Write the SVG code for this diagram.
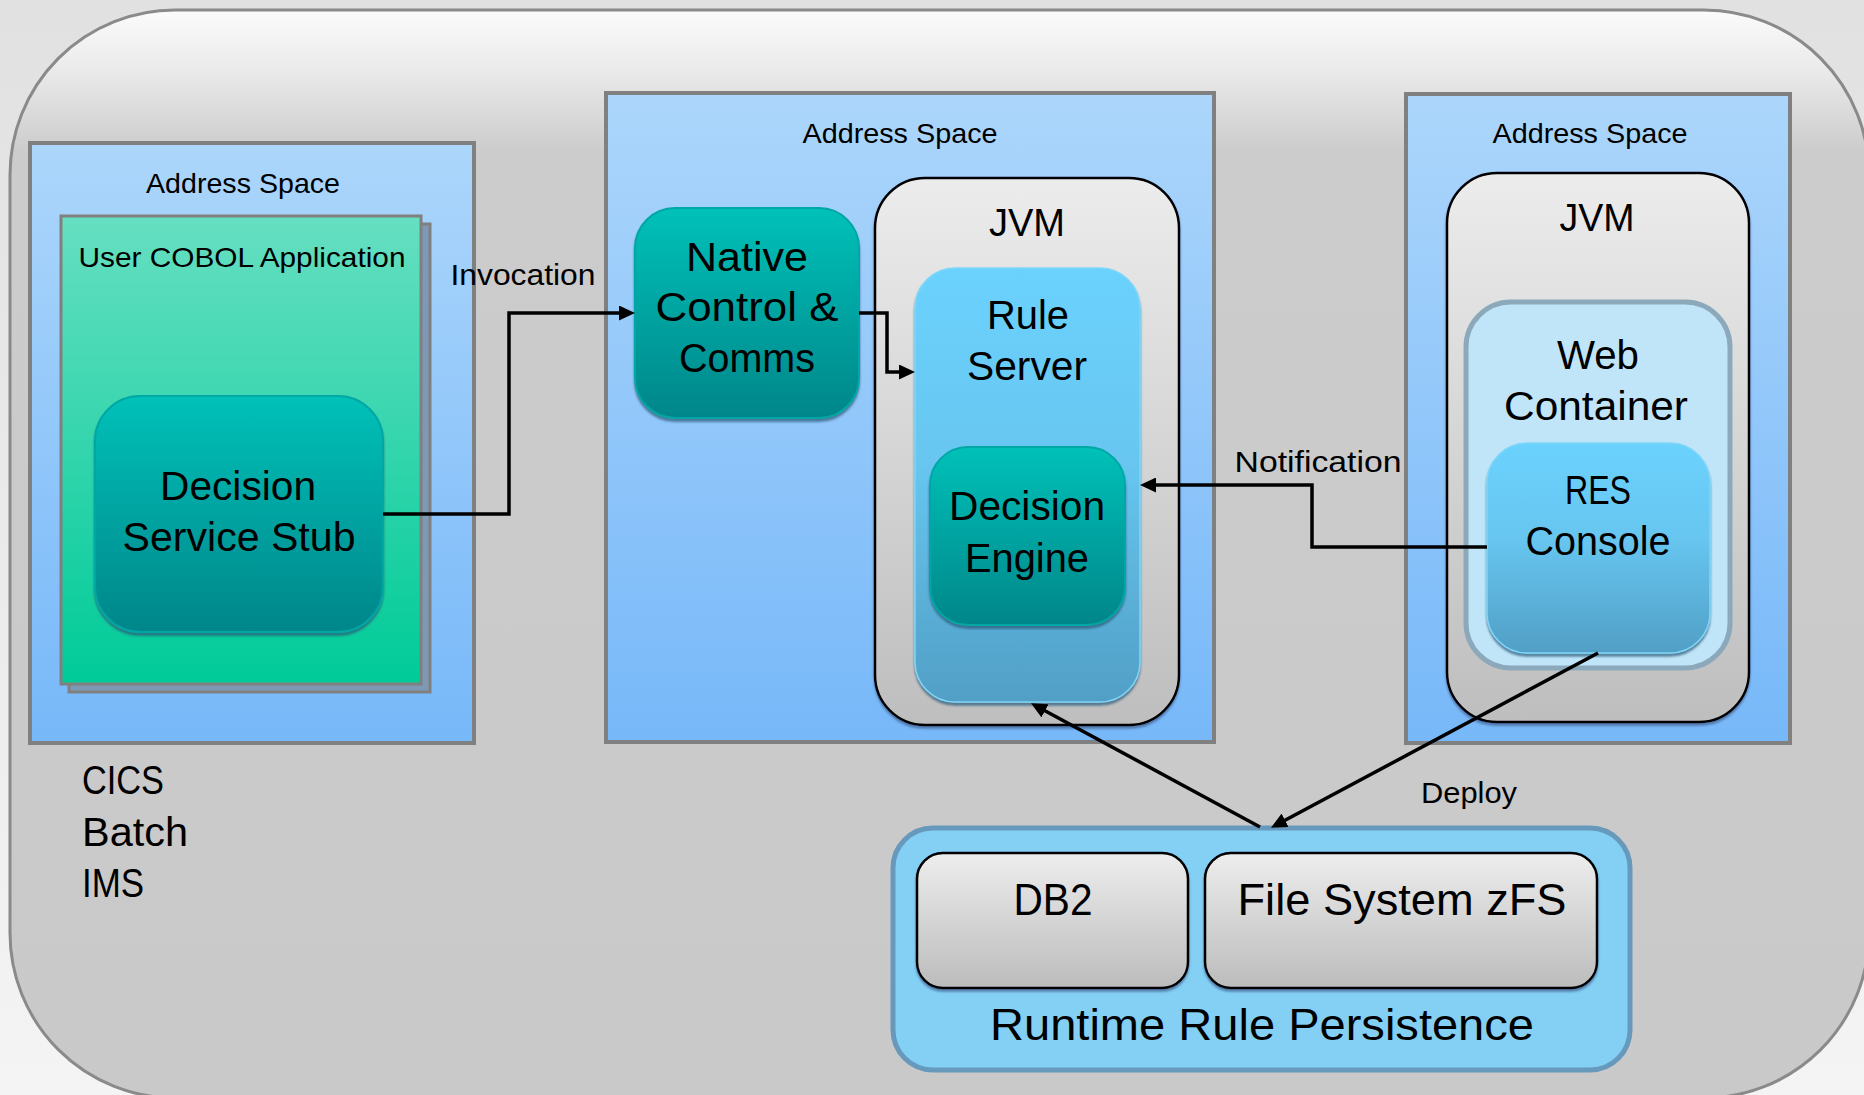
<svg xmlns="http://www.w3.org/2000/svg" width="1864" height="1095" viewBox="0 0 1864 1095">
<style>
text{font-family:"Liberation Sans",Arial,sans-serif;fill:#000}
.as{fill:url(#gAs);stroke:#808080;stroke-width:4}
.teal{fill:url(#gTeal);stroke:#00a7a4;stroke-width:2;filter:url(#sh)}
.jvm{fill:url(#gJvm);stroke:#000;stroke-width:2.5;filter:url(#sh2)}
.rs{fill:url(#gRs);stroke:#7fd6f8;stroke-width:1.5;filter:url(#sh)}
.store{fill:url(#gStore);stroke:#000;stroke-width:2.5;filter:url(#sh2)}
.conn{fill:none;stroke:#000;stroke-width:3.5}
.lbl{font-size:28px}
.big{font-size:41px}
</style>
<defs>
<linearGradient id="gBg" x1="0" y1="0" x2="0" y2="1"><stop offset="0" stop-color="#e1e1e1"/><stop offset="1" stop-color="#f4f4f4"/></linearGradient>
<linearGradient id="gFrame" x1="0" y1="0" x2="0" y2="1"><stop offset="0" stop-color="#fbfbfb"/><stop offset="0.05" stop-color="#ececec"/><stop offset="0.13" stop-color="#cccccc"/><stop offset="1" stop-color="#c9c9c9"/></linearGradient>
<linearGradient id="gAs" x1="0" y1="0" x2="0" y2="1"><stop offset="0" stop-color="#acd6fb"/><stop offset="1" stop-color="#77b8f9"/></linearGradient>
<linearGradient id="gCobol" x1="0" y1="0" x2="0" y2="1"><stop offset="0" stop-color="#66dfc1"/><stop offset="1" stop-color="#00cb98"/></linearGradient>
<linearGradient id="gTeal" x1="0" y1="0" x2="0" y2="1"><stop offset="0" stop-color="#00c1b8"/><stop offset="1" stop-color="#00868a"/></linearGradient>
<linearGradient id="gJvm" x1="0" y1="0" x2="0" y2="1"><stop offset="0" stop-color="#ececec"/><stop offset="1" stop-color="#bebebe"/></linearGradient>
<linearGradient id="gRs" x1="0" y1="0" x2="0" y2="1"><stop offset="0" stop-color="#6bd2fd"/><stop offset="0.45" stop-color="#67c6f0"/><stop offset="1" stop-color="#519fc6"/></linearGradient>
<linearGradient id="gStore" x1="0" y1="0" x2="0" y2="1"><stop offset="0" stop-color="#ededed"/><stop offset="1" stop-color="#bcbcbc"/></linearGradient>
<filter id="sh" x="-10%" y="-10%" width="120%" height="125%"><feDropShadow dx="0" dy="3" stdDeviation="1" flood-color="#2a5a78" flood-opacity="0.7"/></filter>
<filter id="sh2" x="-10%" y="-10%" width="120%" height="125%"><feDropShadow dx="0" dy="2.5" stdDeviation="1" flood-color="#3a5a88" flood-opacity="0.7"/></filter>
<marker id="ah" markerUnits="userSpaceOnUse" markerWidth="16" markerHeight="15" refX="8" refY="7.5" orient="auto"><path d="M0,0 L16,7.5 L0,15 Z" fill="#000"/></marker>
</defs>

<rect x="0" y="0" width="1864" height="1095" fill="url(#gBg)"/>
<g id="frame">
<rect x="10" y="10" width="1859" height="1088" rx="165" fill="url(#gFrame)" stroke="#8a8a8a" stroke-width="3"/>
</g>

<g id="as-left">
<rect class="as" x="30" y="143" width="444" height="600"/>
<text class="lbl" x="243" y="193" text-anchor="middle" textLength="194" lengthAdjust="spacingAndGlyphs">Address Space</text>
</g>
<g id="cobol-app">
<rect x="69" y="224" width="361" height="468" fill="#7d99b5" stroke="#808080" stroke-width="3"/>
<rect x="61" y="216" width="360" height="468" fill="url(#gCobol)" stroke="#808080" stroke-width="3"/>
<text class="lbl" x="242" y="267" text-anchor="middle" textLength="327" lengthAdjust="spacingAndGlyphs">User COBOL Application</text>
</g>
<g id="stub">
<rect class="teal" x="95" y="396" width="288" height="236" rx="45"/>
<text class="big" font-size="42" x="238" y="500" text-anchor="middle" textLength="156" lengthAdjust="spacingAndGlyphs">Decision</text>
<text class="big" font-size="42" x="239" y="551" text-anchor="middle" textLength="233" lengthAdjust="spacingAndGlyphs">Service Stub</text>
</g>
<g id="platforms">
<text font-size="40" x="82" y="794" textLength="82" lengthAdjust="spacingAndGlyphs">CICS</text>
<text font-size="40" x="82" y="846" textLength="106" lengthAdjust="spacingAndGlyphs">Batch</text>
<text font-size="40" x="82" y="897" textLength="62" lengthAdjust="spacingAndGlyphs">IMS</text>
</g>

<g id="as-middle">
<rect class="as" x="606" y="93" width="608" height="649"/>
<text class="lbl" x="900" y="143" text-anchor="middle" textLength="195" lengthAdjust="spacingAndGlyphs">Address Space</text>
</g>
<g id="native">
<rect class="teal" x="635" y="208" width="224" height="210" rx="40"/>
<text class="big" x="747" y="271" text-anchor="middle" textLength="122" lengthAdjust="spacingAndGlyphs">Native</text>
<text class="big" x="747" y="321" text-anchor="middle" textLength="183" lengthAdjust="spacingAndGlyphs">Control &amp;</text>
<text class="big" x="747" y="372" text-anchor="middle" textLength="136" lengthAdjust="spacingAndGlyphs">Comms</text>
</g>
<g id="jvm-middle">
<rect class="jvm" x="875" y="178" width="304" height="547" rx="50"/>
<text font-size="39" x="1027" y="236" text-anchor="middle" textLength="76" lengthAdjust="spacingAndGlyphs">JVM</text>
</g>
<g id="rule-server">
<rect class="rs" x="915" y="268" width="225" height="434" rx="40"/>
<text class="big" x="1028" y="329" text-anchor="middle" textLength="82" lengthAdjust="spacingAndGlyphs">Rule</text>
<text class="big" x="1027" y="380" text-anchor="middle" textLength="120" lengthAdjust="spacingAndGlyphs">Server</text>
</g>
<g id="decision-engine">
<rect class="teal" x="930" y="447" width="195" height="178" rx="38"/>
<text class="big" x="1027" y="520" text-anchor="middle" textLength="156" lengthAdjust="spacingAndGlyphs">Decision</text>
<text class="big" x="1027" y="572" text-anchor="middle" textLength="124" lengthAdjust="spacingAndGlyphs">Engine</text>
</g>

<g id="as-right">
<rect class="as" x="1406" y="94" width="384" height="649"/>
<text class="lbl" x="1590" y="143" text-anchor="middle" textLength="195" lengthAdjust="spacingAndGlyphs">Address Space</text>
</g>
<g id="jvm-right">
<rect class="jvm" x="1447" y="173" width="302" height="549" rx="50"/>
<text font-size="39" x="1597" y="231" text-anchor="middle" textLength="75" lengthAdjust="spacingAndGlyphs">JVM</text>
</g>
<g id="web-container">
<rect x="1466" y="302" width="264" height="366" rx="45" fill="#c1e5f8" stroke="#8ba9bb" stroke-width="5"/>
<text class="big" x="1598" y="369" text-anchor="middle" textLength="82" lengthAdjust="spacingAndGlyphs">Web</text>
<text class="big" x="1596" y="420" text-anchor="middle" textLength="184" lengthAdjust="spacingAndGlyphs">Container</text>
</g>
<g id="res-console">
<rect class="rs" x="1487" y="443" width="223" height="210" rx="40"/>
<text class="big" x="1598" y="504" text-anchor="middle" textLength="66" lengthAdjust="spacingAndGlyphs">RES</text>
<text class="big" x="1598" y="555" text-anchor="middle" textLength="145" lengthAdjust="spacingAndGlyphs">Console</text>
</g>

<g id="persistence">
<rect x="893" y="828" width="737" height="242" rx="40" fill="#84d0f4" stroke="#6699bb" stroke-width="5"/>
<text font-size="44" x="1262" y="1040" text-anchor="middle" textLength="544" lengthAdjust="spacingAndGlyphs">Runtime Rule Persistence</text>
</g>
<g id="db2">
<rect class="store" x="917" y="853" width="271" height="135" rx="26"/>
<text font-size="44" x="1053" y="915" text-anchor="middle" textLength="79" lengthAdjust="spacingAndGlyphs">DB2</text>
</g>
<g id="zfs">
<rect class="store" x="1205" y="853" width="392" height="135" rx="26"/>
<text font-size="44" x="1402" y="915" text-anchor="middle" textLength="329" lengthAdjust="spacingAndGlyphs">File System zFS</text>
</g>

<g id="connectors">
<path class="conn" d="M383,514 H509 V313 H627" marker-end="url(#ah)"/>
<path class="conn" d="M859,313 H887 V372 H907" marker-end="url(#ah)"/>
<path class="conn" d="M1487,547 H1312 V485 H1148" marker-end="url(#ah)"/>
<path class="conn" d="M1598,653 L1278,824" marker-end="url(#ah)"/>
<path class="conn" d="M1260,827 L1038,707" marker-end="url(#ah)"/>
<text font-size="30" x="523" y="285" text-anchor="middle" textLength="145" lengthAdjust="spacingAndGlyphs">Invocation</text>
<text font-size="30" x="1318" y="472" text-anchor="middle" textLength="167" lengthAdjust="spacingAndGlyphs">Notification</text>
<text font-size="30" x="1469" y="803" text-anchor="middle" textLength="96" lengthAdjust="spacingAndGlyphs">Deploy</text>
</g>
</svg>
